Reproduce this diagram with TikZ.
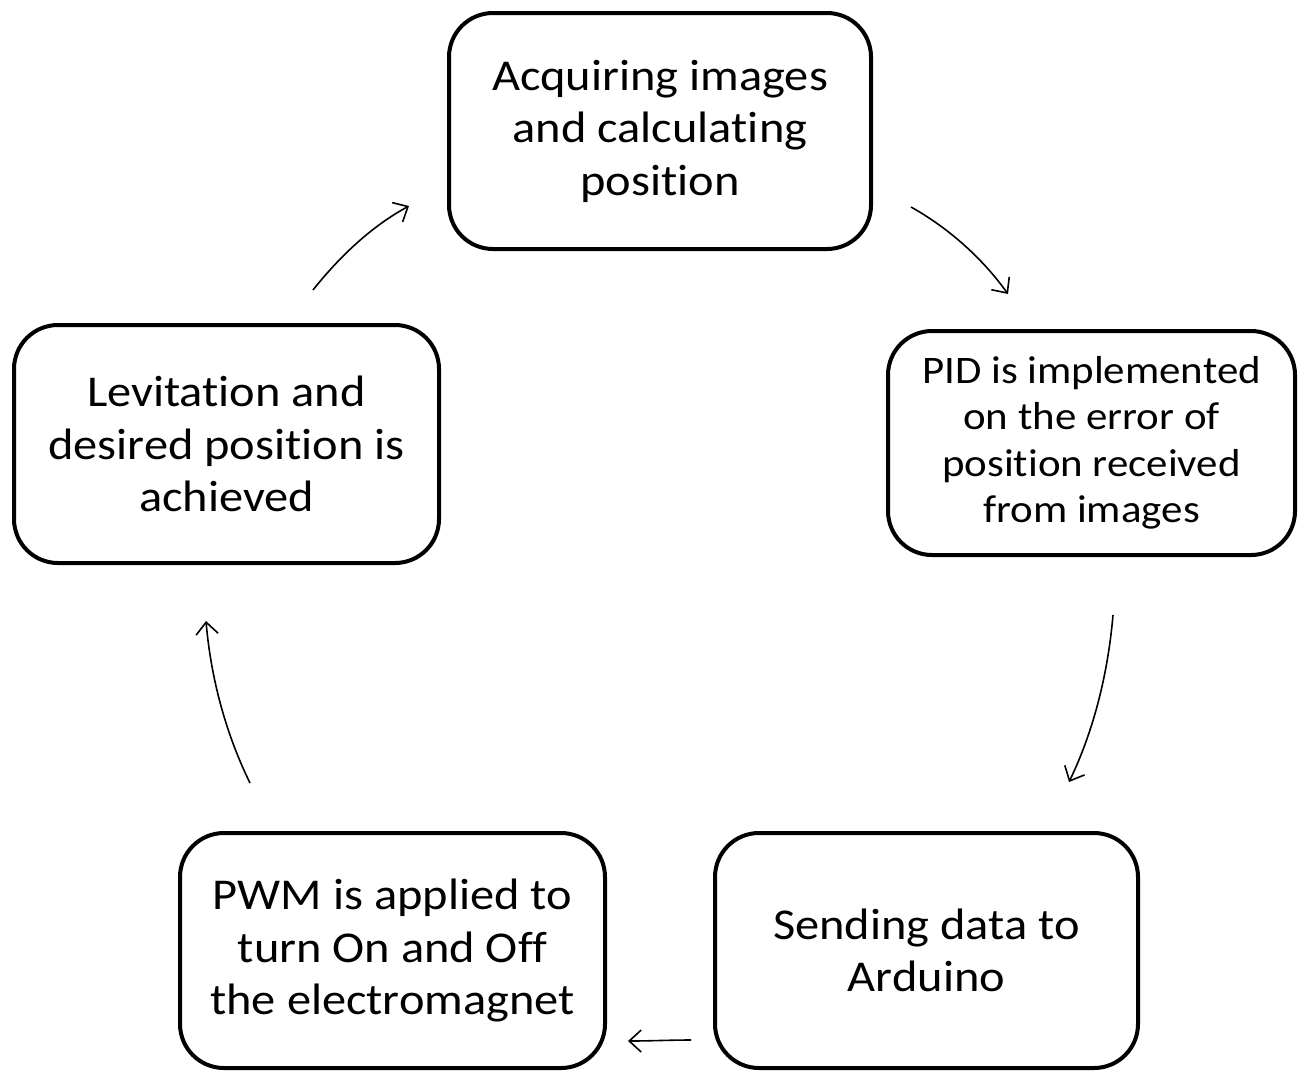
\documentclass[tikz,border=0pt]{standalone}
\usepackage{fontspec}
\setmainfont{Carlito}[FakeStretch=1.1, Ligatures=CommonOff]
\usetikzlibrary{arrows.meta}
\begin{document}
\begin{tikzpicture}[x=1pt,y=-1pt,
  stage/.style={draw=black, line width=4pt, rounded corners=44pt, align=center,
    inner sep=0pt, font=\fontsize{44}{52.5}\selectfont},
  smalltext/.style={font=\fontsize{39}{46.5}\selectfont},
  flow/.style={line width=1.6pt, -{Straight Barb[length=12pt,width=22pt,line width=1.6pt]}}]
\useasboundingbox (0,0) rectangle (1301,1072);

\node[stage, minimum width=422pt, minimum height=236pt] (acq) at (660,131)
  {Acquiring images\\and calculating\\position};
\node[stage, smalltext, minimum width=407pt, minimum height=224pt] (pid) at (1091.5,443)
  {PID is implemented\\on the error of\\position received\\from images};
\node[stage, minimum width=423pt, minimum height=235pt] (send) at (926.5,950.5)
  {Sending data to\\Arduino};
\node[stage, minimum width=425pt, minimum height=235pt] (pwm) at (392.5,950.5)
  {PWM is applied to\\turn On and Off\\the electromagnet};
\node[stage, minimum width=425pt, minimum height=238pt] (lev) at (226.5,444)
  {Levitation and\\desired position is\\achieved};

\coordinate (a1s) at (313,290);
\coordinate (a1e) at (409,206);
\coordinate (a2s) at (911,207);
\coordinate (a2e) at (1008,294);
\coordinate (a3s) at (1113,615);
\coordinate (a3e) at (1069,782);
\coordinate (a4s) at (691,1040);
\coordinate (a4e) at (628,1041);
\coordinate (a5s) at (250,783);
\coordinate (a5e) at (206,621);

\draw[flow] (a1s) .. controls (340,256) and (372,226) .. (a1e);
\draw[flow] (a2s) .. controls (945,226) and (980,255) .. (a2e);
\draw[flow] (a3s) .. controls (1108,673) and (1094,730) .. (a3e);
\draw[flow] (a4s) .. controls (670,1040) and (650,1041) .. (a4e);
\draw[flow] (a5s) .. controls (226,734) and (211,679) .. (a5e);
\end{tikzpicture}
\end{document}
